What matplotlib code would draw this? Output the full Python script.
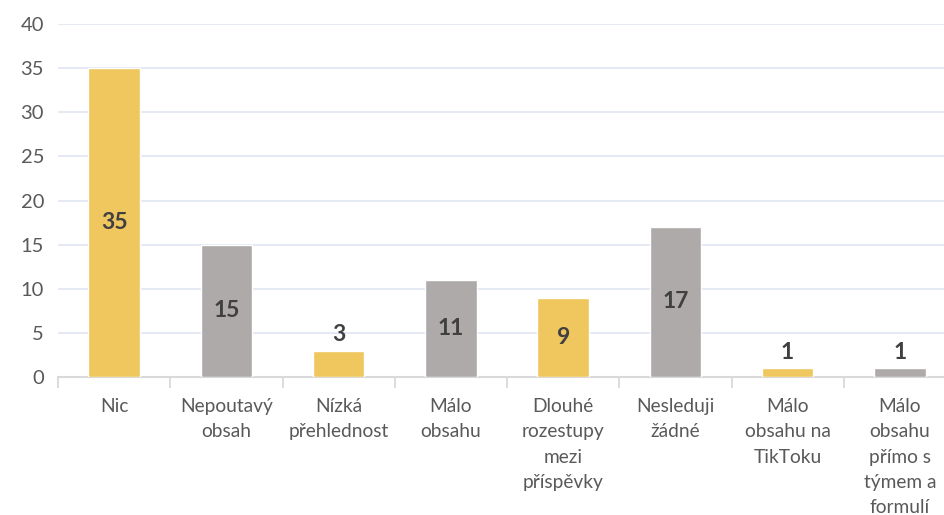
import numpy as np
import matplotlib.pyplot as plt

# Data
categories = ['Nic', 'Nepoutavý\nobsah', 'Nízká\npřehlednost', 'Málo\nobsahu',
              'Dlouhé\nrozestupy\nmezi\npříspěvky', 'Nesleduji\nžádné',
              'Málo\nobsahu na\nTikToku', 'Málo\nobsahu\npřímo s\ntýmem a\nformulí']
values = [35, 15, 3, 11, 9, 17, 1, 1]
colors = ['#F0C75E', '#AEAAAA'] * 4

plt.rcParams['font.family'] = ['Lato', 'DejaVu Sans']

fig = plt.figure(figsize=(9.44, 5.15), dpi=100)
ax = fig.add_axes([58 / 944, 138 / 515, 898 / 944, 353 / 515])

x = np.arange(len(values))
bars = ax.bar(x, values, width=0.46, color=colors, edgecolor='white', linewidth=1, zorder=3)

# etiquetas de valores: dentro si caben, encima si no
for xi, v in zip(x, values):
    if v >= 5:
        ax.text(xi, v / 2, str(v), ha='center', va='center', fontsize=16.5,
                fontweight='bold', color='#404040', zorder=4)
    else:
        ax.text(xi, v + 0.6, str(v), ha='center', va='bottom', fontsize=16.5,
                fontweight='bold', color='#404040', zorder=4)

ax.set_xlim(-0.5, len(values) - 0.5)
ax.set_ylim(0, 40)
ax.set_yticks(range(0, 41, 5))
ax.yaxis.grid(True, color='#E3E7F3', linewidth=1.3, zorder=0)
ax.set_axisbelow(True)

for s in ['top', 'right', 'left']:
    ax.spines[s].set_visible(False)
ax.spines['bottom'].set_color('#D9D9D9')
ax.spines['bottom'].set_linewidth(1.5)

ax.tick_params(axis='y', length=0, labelsize=14.5, labelcolor='#595959', pad=10)
ax.set_xticks(x)
ax.set_xticklabels(categories, fontsize=13.8, color='#595959', linespacing=1.6, va='top')
ax.tick_params(axis='x', which='major', length=0, pad=15)
ax.set_xticks(np.arange(-0.5, len(values), 1), minor=True)
ax.tick_params(axis='x', which='minor', length=8, color='#D9D9D9', width=1.3)

fig.savefig('out.png', dpi=100)
